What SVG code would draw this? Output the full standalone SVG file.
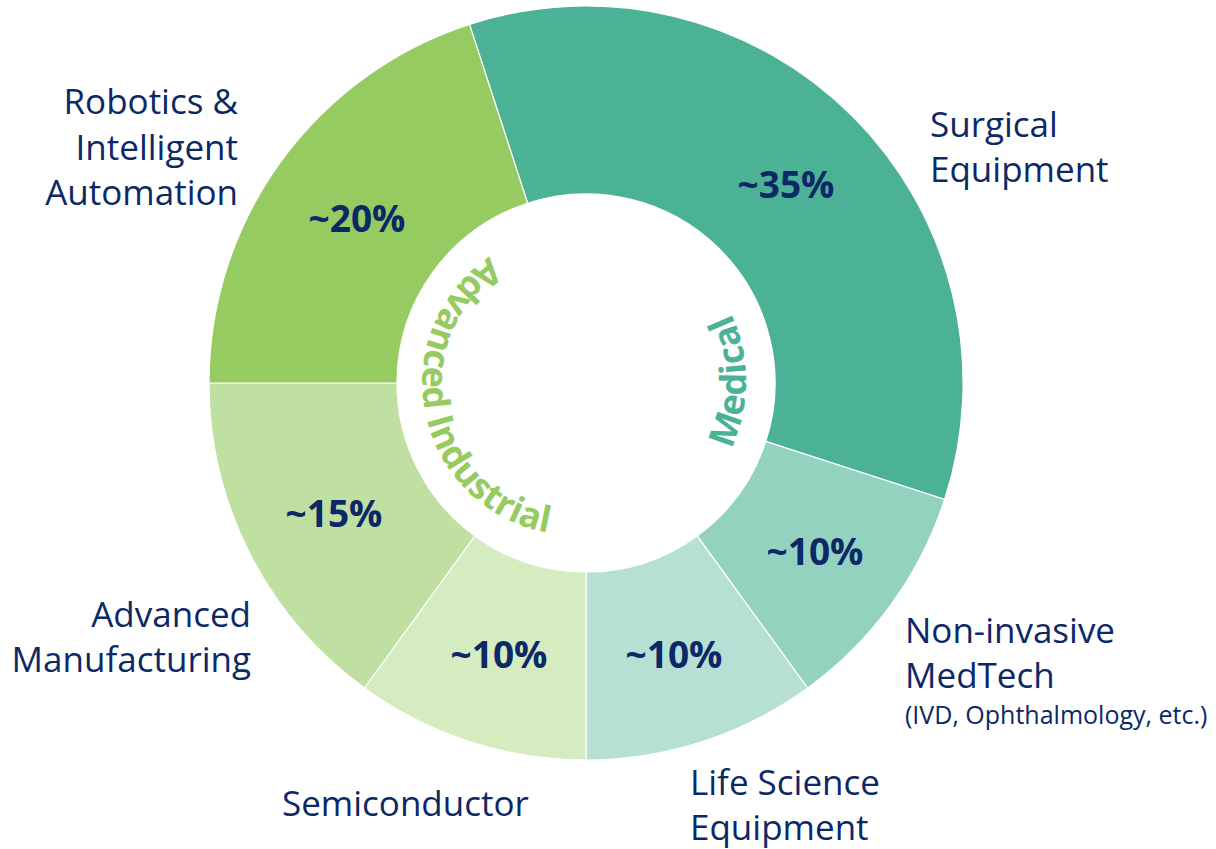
<svg xmlns="http://www.w3.org/2000/svg" xmlns:xlink="http://www.w3.org/1999/xlink" width="1216" height="849" viewBox="0 0 1216 849">
<style>
.seg{stroke:#ffffff;stroke-width:1.2}
.lbl{font-family:"Open Sans","Noto Sans",sans-serif;font-size:35px;fill:#0c2866}
.sub{font-family:"Open Sans","Noto Sans",sans-serif;font-size:25px;fill:#0c2866}
.pct{font-family:"Open Sans","Noto Sans",sans-serif;font-size:37px;font-weight:bold;fill:#0c2866;text-anchor:middle}
.arc{font-family:"Open Sans","Noto Sans",sans-serif;font-size:36px;font-weight:bold}
</style>
<defs>
<path id="arcMed" d="M666,519.6 A160,160 0 0 0 666,242.4"/>
<path id="arcInd" d="M539.8,234.9 A152,152 0 0 0 603,532.2"/>
</defs>
<rect width="1216" height="849" fill="#ffffff"/>
<g id="connectors"></g>
<g id="surgical">
<path class="seg" fill="#4cb296" d="M469.5,24.4 A377,377 0 0 1 944.6,499.5 L765.8,441.4 A189,189 0 0 0 527.6,203.2 Z"/>
<text class="pct" x="786" y="198">~35%</text>
<text class="lbl" x="930" y="137">Surgical</text>
<text class="lbl" x="930" y="182">Equipment</text>
</g>
<g id="noninvasive">
<path class="seg" fill="#94d2c0" d="M944.6,499.5 A377,377 0 0 1 807.6,688 L697.1,535.9 A189,189 0 0 0 765.8,441.4 Z"/>
<text class="pct" x="815" y="565">~10%</text>
<text class="lbl" x="905" y="643">Non-invasive</text>
<text class="lbl" x="905" y="688">MedTech</text>
<text class="sub" x="905" y="724">(IVD, Ophthalmology, etc.)</text>
</g>
<g id="lifescience">
<path class="seg" fill="#b7e0d5" d="M807.6,688 A377,377 0 0 1 586,760 L586,572 A189,189 0 0 0 697.1,535.9 Z"/>
<text class="pct" x="674" y="668">~10%</text>
<text class="lbl" x="690" y="795">Life Science</text>
<text class="lbl" x="690" y="840">Equipment</text>
</g>
<g id="semiconductor">
<path class="seg" fill="#d5ebc0" d="M586,760 A377,377 0 0 1 364.4,688 L474.9,535.9 A189,189 0 0 0 586,572 Z"/>
<text class="pct" x="499" y="668">~10%</text>
<text class="lbl" x="282" y="816">Semiconductor</text>
</g>
<g id="advmfg">
<path class="seg" fill="#bfe0a1" d="M364.4,688 A377,377 0 0 1 209,383 L397,383 A189,189 0 0 0 474.9,535.9 Z"/>
<text class="pct" x="334" y="527">~15%</text>
<text class="lbl" x="251" y="627" text-anchor="end">Advanced</text>
<text class="lbl" x="251" y="672" text-anchor="end">Manufacturing</text>
</g>
<g id="robotics">
<path class="seg" fill="#95cb61" d="M209,383 A377,377 0 0 1 469.5,24.4 L527.6,203.2 A189,189 0 0 0 397,383 Z"/>
<text class="pct" x="357" y="232">~20%</text>
<text class="lbl" x="238" y="114" text-anchor="end">Robotics &amp;</text>
<text class="lbl" x="238" y="160" text-anchor="end">Intelligent</text>
<text class="lbl" x="238" y="205" text-anchor="end">Automation</text>
</g>
<g id="medical-group">
<text class="arc" fill="#4cb296" text-anchor="middle"><textPath href="#arcMed" xlink:href="#arcMed" startOffset="50%">Medical</textPath></text>
</g>
<g id="industrial-group">
<text class="arc" fill="#95cb61" text-anchor="middle"><textPath href="#arcInd" xlink:href="#arcInd" startOffset="50%">Advanced Industrial</textPath></text>
</g>
</svg>
